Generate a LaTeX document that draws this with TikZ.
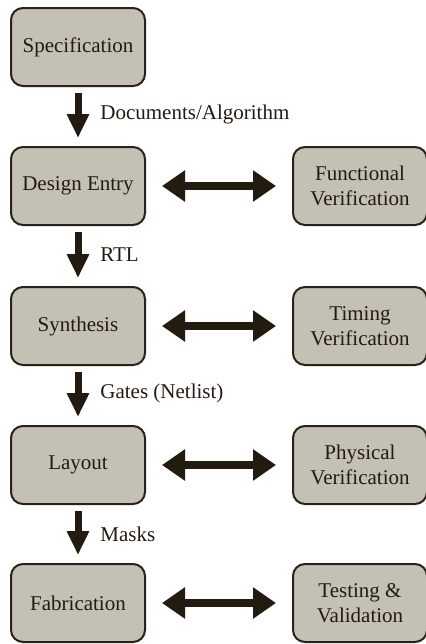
\documentclass[tikz,border=0pt]{standalone}
\usepackage{fontspec}
\setmainfont{Liberation Serif}
\usepackage{tikz}
\usetikzlibrary{arrows.meta}
\pgfdeclarelayer{edgelayer}
\pgfdeclarelayer{nodelayer}
\pgfsetlayers{edgelayer,nodelayer,main}
\definecolor{boxfill}{HTML}{C4C1B4}
\definecolor{boxline}{HTML}{2A2218}
\definecolor{inkcol}{HTML}{231A10}
\tikzstyle{none}=[inner sep=0pt, text=inkcol, font=\fontsize{10.5}{12.5}\selectfont]
\tikzstyle{stage}=[rectangle, rounded corners=6pt, fill=boxfill, draw=boxline, line width=1pt, minimum width=67pt, minimum height=39pt, align=center, text=inkcol, font=\fontsize{10.5}{12.5}\selectfont]
\tikzstyle{flow}=[draw=inkcol, line width=3.5pt, -{Triangle[length=12pt, width=10.5pt]}, shorten <=3pt, shorten >=4pt]
\tikzstyle{check}=[draw=inkcol, line width=4pt, {Triangle[length=11.5pt, width=15pt]}-{Triangle[length=11.5pt, width=15pt]}, shorten <=8pt, shorten >=8pt]

\begin{document}
\begin{tikzpicture}[x=0.5pt, y=-0.5pt]
				\useasboundingbox (0, 0) rectangle (426, 644);
				\begin{pgfonlayer}{nodelayer}
					\node [style=stage] (0) at (78, 47) {Specification};
					\node [style=stage] (1) at (78, 186) {Design Entry};
					\node [style=stage] (2) at (78, 326) {Synthesis};
					\node [style=stage] (3) at (78, 465) {Layout};
					\node [style=stage] (4) at (78, 603) {Fabrication};
					\node [style=stage] (5) at (360, 186) {Functional\\Verification};
					\node [style=stage] (6) at (360, 326) {Timing\\Verification};
					\node [style=stage] (7) at (360, 465) {Physical\\Verification};
					\node [style=stage] (8) at (360, 603) {Testing \&\\Validation};
					\node [style=none, anchor=west] (9) at (100, 114) {Documents/Algorithm};
					\node [style=none, anchor=west] (10) at (100, 255) {RTL};
					\node [style=none, anchor=west] (11) at (100, 393) {Gates (Netlist)};
					\node [style=none, anchor=west] (12) at (100, 534) {Masks};
				\end{pgfonlayer}
				\begin{pgfonlayer}{edgelayer}
					\draw [style=flow] (0) to (1);
					\draw [style=flow] (1) to (2);
					\draw [style=flow] (2) to (3);
					\draw [style=flow] (3) to (4);
					\draw [style=check] (1) to (5);
					\draw [style=check] (2) to (6);
					\draw [style=check] (3) to (7);
					\draw [style=check] (4) to (8);
				\end{pgfonlayer}
			\end{tikzpicture}
\end{document}
